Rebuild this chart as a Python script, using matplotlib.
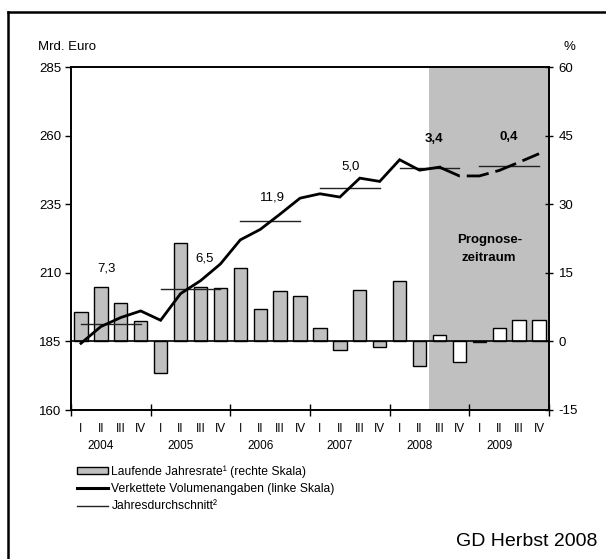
import matplotlib
matplotlib.use("Agg")
from matplotlib import pyplot as plt
from matplotlib.patches import Patch
from matplotlib.lines import Line2D

plt.rcParams['font.family'] = ['Liberation Sans', 'DejaVu Sans']
plt.rcParams['axes.unicode_minus'] = False

years = [2004, 2005, 2006, 2007, 2008, 2009]
quarters = ["I", "II", "III", "IV"] * 6

# laufende Jahresrate in % (rechte Skala)
jahresrate = [6.5, 11.8, 8.4, 4.4, -6.9, 21.6, 11.8, 11.6,
              16.1, 7.0, 11.0, 9.9, 2.9, -1.9, 11.3, -1.2,
              13.2, -5.4, 1.4, -4.6, -0.2, 2.9, 4.6, 4.6]

# verkettete Volumenangaben, Mrd. Euro (linke Skala)
volumen = [184.3, 190.4, 193.7, 196.1, 192.7, 202.4, 207.1, 213.2,
           222.0, 225.8, 231.4, 237.2, 238.8, 237.6, 244.5, 243.3,
           251.2, 247.4, 248.5, 245.3, 245.3, 247.3, 250.3, 253.4]

# Jahresdurchschnitt und Veraenderung ggue. Vorjahr
jahresdurchschnitt = [191.2, 204.0, 228.8, 240.8, 248.3, 249.0]
jahreswachstum = ["7,3", "6,5", "11,9", "5,0", "3,4", "0,4"]
label_pos = [(1.3, 211.6), (6.2, 215.2), (9.6, 237.6), (13.55, 248.9),
             (17.7, 258.8), (21.5, 259.6)]

n_ist = 18  # ab 2008 III Prognose
x = list(range(len(volumen)))

fig = plt.figure(figsize=(6.06, 5.59), dpi=100)
ax = fig.add_axes([71 / 606, 1 - 410 / 559, 478 / 606, 343 / 559])
ax2 = ax.twinx()
ax.yaxis.tick_right()
ax2.yaxis.tick_left()

# Prognosezeitraum
ax.axvspan(n_ist - 0.5, 23.5, color='#C0C0C0', lw=0, zorder=0)

colors = ['#C0C0C0' if i < n_ist else 'white' for i in x]
ax.bar(x, jahresrate, width=0.67, color=colors, edgecolor='black',
       linewidth=1.0, zorder=2)
ax.axhline(0, color='black', lw=1.2, zorder=3)

ax.set_xlim(-0.5, 23.5)
ax.set_ylim(-15, 60)
ax.set_yticks([-15, 0, 15, 30, 45, 60])
ax.tick_params(axis='y', direction='inout', length=6, width=1, labelsize=9.5, pad=4)

ax2.set_ylim(160, 285)
ax2.set_yticks([160, 185, 210, 235, 260, 285])
ax2.tick_params(axis='y', direction='out', length=4, width=1, labelsize=9.5, pad=3)

# Linie: Ist solide, Prognose gestrichelt
ax2.plot(x[:n_ist + 1], volumen[:n_ist + 1], color='black', lw=2.0,
         solid_joinstyle='miter', zorder=5)
ax2.plot(x[n_ist:], volumen[n_ist:], color='black', lw=2.0,
         dashes=(8, 2.5), zorder=5)

for k, avg in enumerate(jahresdurchschnitt):
    ax2.plot([4 * k, 4 * k + 3], [avg, avg], color='#222222', lw=1.0, zorder=4)

for k, (txt, (tx, ty)) in enumerate(zip(jahreswachstum, label_pos)):
    ax2.text(tx, ty, txt, ha='center', va='center', fontsize=9.5,
             fontweight='bold' if k >= 4 else 'normal', zorder=6)

ax2.text(20.5, 222, "Prognose-", ha='center', va='center', fontsize=9.5,
         fontweight='bold')
ax2.text(20.5, 215.3, "zeitraum", ha='center', va='center', fontsize=9.5,
         fontweight='bold')

# x-Achse: Jahre und Quartale
ax.set_xticks([4 * k - 0.5 for k in range(7)])
ax.set_xticklabels([])
ax.set_xticks(x, minor=True)
ax.set_xticklabels(quarters, minor=True)
ax.tick_params(axis='x', which='major', direction='inout', length=8, width=1)
ax.tick_params(axis='x', which='minor', length=0, labelsize=8.5, pad=9)
for k, yr in enumerate(years):
    ax.text(4 * k + 1.0, -0.105, str(yr), transform=ax.get_xaxis_transform(),
            ha='center', va='center', fontsize=8.5)

for a in (ax, ax2):
    for s in a.spines.values():
        s.set_linewidth(1.2)

fig.text(38 / 606, 1 - 47 / 559, "Mrd. Euro", ha='left', va='center', fontsize=9.5)
fig.text(563 / 606, 1 - 47 / 559, "%", ha='left', va='center', fontsize=9.5)

handles = [Patch(facecolor='#C0C0C0', edgecolor='black', lw=1.0),
           Line2D([], [], color='black', lw=2.2),
           Line2D([], [], color='#222222', lw=1.0)]
labels = ["Laufende Jahresrate\u00b9 (rechte Skala)",
          "Verkettete Volumenangaben (linke Skala)",
          "Jahresdurchschnitt\u00b2"]
fig.legend(handles, labels, loc='upper left', bbox_to_anchor=(77 / 606, 1 - 465 / 559),
           frameon=False, fontsize=8.7, handlelength=2.6, handleheight=0.5,
           handletextpad=0.25, labelspacing=0.45, borderpad=0, borderaxespad=0)

fig.text(597 / 606, 1 - 541 / 559, "GD Herbst 2008", ha='right', va='center', fontsize=14)

# Rahmen
fig.add_artist(Line2D([8 / 606, 8 / 606], [0, 1 - 12 / 559], color='black', lw=1.8,
                      transform=fig.transFigure))
fig.add_artist(Line2D([8 / 606, 1], [1 - 12 / 559, 1 - 12 / 559], color='black', lw=1.8,
                      transform=fig.transFigure))

fig.savefig("out.png", dpi=100)
